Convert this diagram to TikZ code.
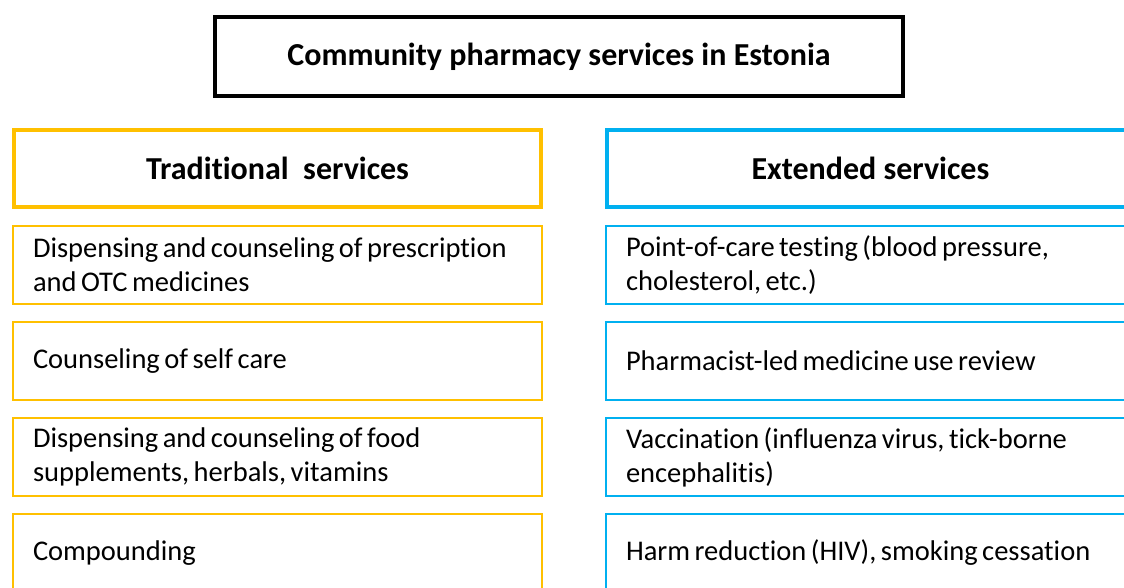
\documentclass[tikz,border=0pt]{standalone}
\usepackage{fontspec}
\setmainfont[Ligatures=NoCommon]{Carlito}
\usetikzlibrary{positioning}

\definecolor{tradorange}{HTML}{FFC000}
\definecolor{extblue}{HTML}{00B0F0}

\newcommand\tightwords{\spaceskip=4.5pt plus 1.5pt\relax}

\tikzset{
    titlebox/.style={draw=black, line width=4pt, minimum width=688pt, minimum height=79pt,
        font=\bfseries\fontsize{32}{38}\selectfont},
    headbox/.style={draw=#1, line width=4pt, minimum width=527pt, minimum height=77pt,
        font=\bfseries\fontsize{32}{38}\selectfont},
    itembox/.style={draw=#1, line width=2pt, minimum height=78pt, text width=489pt,
        inner xsep=20pt, align=left, font=\fontsize{28.5}{34}\selectfont,
        execute at begin node=\tightwords}
}

\begin{document}
\begin{tikzpicture}[x=1pt, y=-1pt]
            \clip (0, 0) rectangle (1124, 588);
            \node[titlebox] (title) at (559, 56.5) {Community pharmacy services in Estonia};
            % the two columns
            \node[headbox=tradorange] (trad) at (277.5, 168.5) {Traditional\ \ services};
            \node[headbox=extblue] (ext) at (870.5, 168.5) {Extended services};
            \foreach \i/\cY/\ltxt/\rtxt in {
                1/265/{Dispensing and counseling of prescription\\and OTC medicines}/{Point-of-care testing (blood pressure,\\cholesterol, etc.)},
                2/361/{Counseling of self care}/{Pharmacist-led medicine use review},
                3/457/{Dispensing and counseling of food\\supplements, herbals, vitamins}/{Vaccination (influenza virus, tick-borne\\encephalitis)},
                4/553/{Compounding}/{Harm reduction (HIV), smoking cessation}}
            {
                \node[itembox=tradorange] (trad\i) at (277.5, \cY) {\ltxt};
                \node[itembox=extblue] (ext\i) at (870.5, \cY) {\rtxt};
            }
        \end{tikzpicture}
\end{document}
